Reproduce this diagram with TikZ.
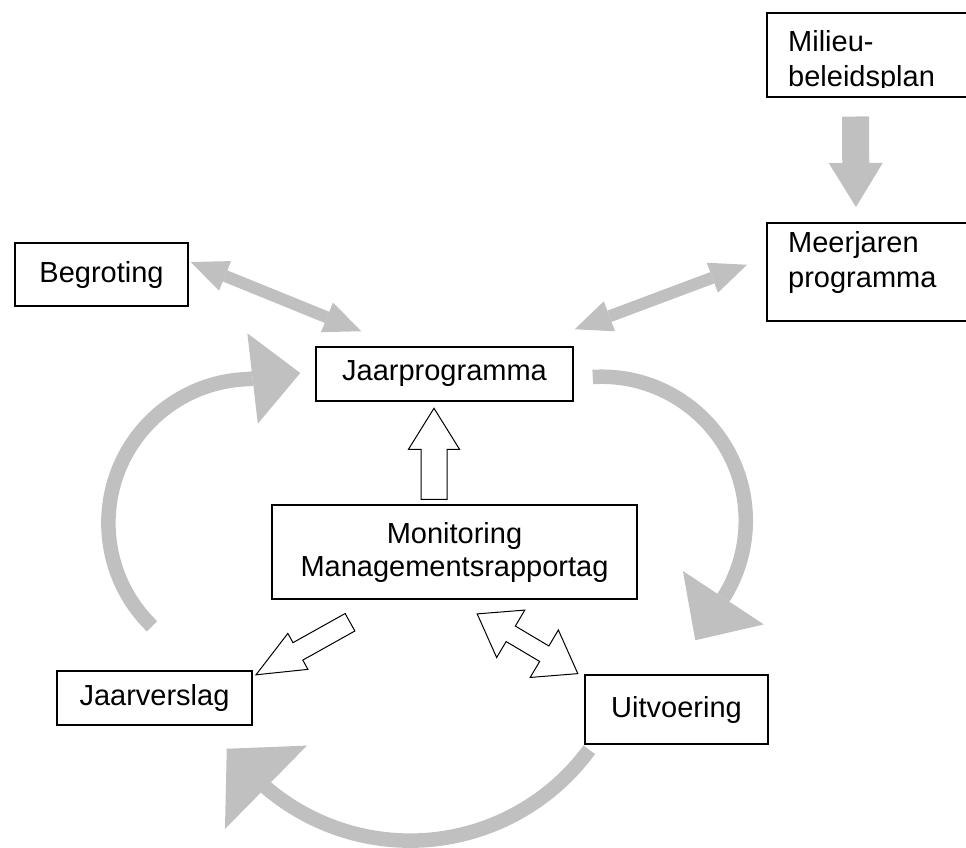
\documentclass[tikz,border=0pt]{standalone}
\usepackage{fontspec}
\setmainfont{Liberation Sans}
\usetikzlibrary{arrows.meta,calc}
\definecolor{pijlgrijs}{RGB}{192,192,192}
\begin{document}
\begin{tikzpicture}[x=1pt,y=-1pt]
        \tikzstyle{every node}=[font=\fontsize{29}{33}\selectfont]
        \tikzstyle{blok}=[draw, line width=1.5pt, inner sep=0pt]
        \tikzstyle{tekst}=[anchor=north west, align=left, inner sep=0pt, font=\fontsize{29}{35}\selectfont]
        \tikzstyle{grijs}=[draw=pijlgrijs]
        \tikzstyle{dubbel}=[grijs, line width=12pt, {Triangle[length=37pt,width=32pt,line width=0pt]}-{Triangle[length=37pt,width=32pt,line width=0pt]}]
        \tikzstyle{wit}=[draw=black, fill=white, line width=1pt, line join=miter]
        \useasboundingbox (0,0) rectangle (966,847);
        \clip (0,0) rectangle (966,847);

        \node[blok, anchor=north west, minimum width=250pt, minimum height=84pt] (milieu) at (766,12) {};
        \node[blok, anchor=north west, minimum width=250pt, minimum height=98pt] (meer) at (766,222) {};
        \begin{scope}
        \clip (766,12) rectangle (966,87);
        \node[tekst] (milieutekst) at (788,30) {Milieu-\\beleidsplan};
        \end{scope}
        \node[tekst] (meertekst) at (788,231) {Meerjaren\\programma};

        \node[blok, minimum width=173pt, minimum height=63pt] (begroting) at (101.5,274.5) {Begroting};
        \node[blok, minimum width=257pt, minimum height=54pt] (jaar) at (444.5,374) {Jaarprogramma};
        \node[blok, minimum width=365pt, minimum height=94pt, align=center] (monitoring) at (454.5,552) {Monitoring\\Managementsrapportag};
        \node[blok, minimum width=195pt, minimum height=54pt] (jaarverslag) at (154.5,698) {Jaarverslag};
        \node[blok, minimum width=183pt, minimum height=69pt] (uitvoering) at (676.5,709.5) {Uitvoering};

        \draw [grijs, line width=27pt, -{Triangle[length=44pt,width=54pt,line width=0pt]}] ($(milieu.south west)+(89.5,19)$) -- ($(meer.north west)+(90,-15)$);
        \draw [dubbel] ($(begroting.east)+(2,-12.5)$) -- ($(jaar.north west)+(46,-15)$);
        \draw [dubbel] ($(meer.west)+(-19,-7)$) -- ($(jaar.north east)+(1,-17)$);

        \draw [grijs, line width=14.5pt, -{Triangle[length=48pt,width=91pt,line width=0pt]}] ($(jaarverslag.north)+(-2.5,-44)$) arc[start angle=134.2, end angle=268, radius=144] -- ($(jaar.west)+(-15,-1)$);
        \draw [grijs, line width=14.5pt, -{Triangle[length=51pt,width=97pt,line width=0pt]}] ($(jaar.east)+(19,3)$) arc[start angle=-93.6, end angle=31, radius=144] -- ($(uitvoering.north west)+(111,-34)$);
        \draw [grijs, line width=14.5pt, -{Triangle[length=55pt,width=117pt,line width=0pt]}] ($(uitvoering.south west)+(5,5)$) arc[start angle=36.2, end angle=130, radius=222] -- ($(jaarverslag.south east)+(-26,23)$);

        \begin{scope}[shift={($(monitoring.north)+(-20.5,-5)$)}, rotate=90]
        \draw [wit] (0,-13) -- (50,-13) -- (50,-25.5) -- (91,0) -- (50,25.5) -- (50,13) -- (0,13) -- cycle;
        \end{scope}
        \begin{scope}[shift={($(monitoring.south)+(-104.5,22.5)$)}, rotate=209.2]
        \draw [wit] (0,-10) -- (59.7,-10) -- (59.7,-20.6) -- (107.7,0) -- (59.7,20.6) -- (59.7,10) -- (0,10) -- cycle;
        \end{scope}
        \begin{scope}[shift={($(monitoring.south)+(73,44)$)}, rotate=-30.7]
        \draw [wit] (-58.5,0) -- (-19.5,27.6) -- (-19.5,9) -- (19.5,9) -- (19.5,27.6) -- (58.5,0) -- (19.5,-27.6) -- (19.5,-9) -- (-19.5,-9) -- (-19.5,-27.6) -- cycle;
        \end{scope}
\end{tikzpicture}
\end{document}
